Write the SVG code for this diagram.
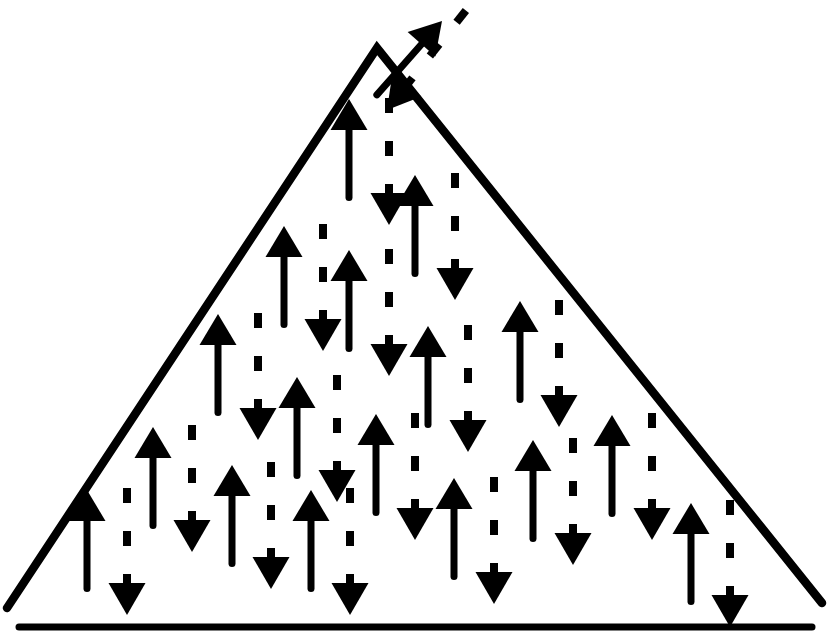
<svg xmlns="http://www.w3.org/2000/svg" xmlns:xlink="http://www.w3.org/1999/xlink" width="832" height="634" viewBox="0 0 832 634">
<style>
.edge{fill:none;stroke:#000;stroke-width:8.5;stroke-linecap:round;stroke-linejoin:miter}
.base{fill:none;stroke:#000;stroke-width:7;stroke-linecap:round}
.shaft{stroke:#000;stroke-width:7;stroke-linecap:round}
.ink{fill:#000}
</style>
<defs>
<g id="up">
<line class="shaft" x1="0" y1="28" x2="0" y2="98.5"/>
<polygon class="ink" points="0,0 18.5,31 -18.5,31"/>
</g>
<g id="dn">
<rect class="ink" x="-4" y="-127" width="8" height="15"/>
<rect class="ink" x="-4" y="-84" width="8" height="15"/>
<rect class="ink" x="-4" y="-41" width="8" height="10"/>
<polygon class="ink" points="0,0 -18.5,-32 18.5,-32"/>
</g>
</defs>
<rect width="832" height="634" fill="#fff"/>
<g id="pyramid">
<polyline class="edge" points="7,608 377,48 822,603"/>
<line class="base" x1="19" y1="627" x2="812" y2="627"/>
</g>
<g id="up-arrows">
<use xlink:href="#up" href="#up" x="349" y="99"/>
<use xlink:href="#up" href="#up" x="415" y="175"/>
<use xlink:href="#up" href="#up" x="284" y="226"/>
<use xlink:href="#up" href="#up" x="349" y="250"/>
<use xlink:href="#up" href="#up" x="218" y="314"/>
<use xlink:href="#up" href="#up" x="520" y="301"/>
<use xlink:href="#up" href="#up" x="428" y="326"/>
<use xlink:href="#up" href="#up" x="297" y="377"/>
<use xlink:href="#up" href="#up" x="376" y="414"/>
<use xlink:href="#up" href="#up" x="612" y="415"/>
<use xlink:href="#up" href="#up" x="153" y="427"/>
<use xlink:href="#up" href="#up" x="533" y="440"/>
<use xlink:href="#up" href="#up" x="232" y="465"/>
<use xlink:href="#up" href="#up" x="454" y="478"/>
<use xlink:href="#up" href="#up" x="87" y="490"/>
<use xlink:href="#up" href="#up" x="311" y="490"/>
<use xlink:href="#up" href="#up" x="691" y="503"/>
</g>
<g id="down-arrows">
<use xlink:href="#dn" href="#dn" x="389" y="225"/>
<use xlink:href="#dn" href="#dn" x="455" y="300"/>
<use xlink:href="#dn" href="#dn" x="323" y="351"/>
<use xlink:href="#dn" href="#dn" x="389" y="376"/>
<use xlink:href="#dn" href="#dn" x="258" y="440"/>
<use xlink:href="#dn" href="#dn" x="559" y="427"/>
<use xlink:href="#dn" href="#dn" x="468" y="452"/>
<use xlink:href="#dn" href="#dn" x="337" y="502"/>
<use xlink:href="#dn" href="#dn" x="415" y="540"/>
<use xlink:href="#dn" href="#dn" x="652" y="540"/>
<use xlink:href="#dn" href="#dn" x="192" y="552"/>
<use xlink:href="#dn" href="#dn" x="573" y="565"/>
<use xlink:href="#dn" href="#dn" x="271" y="589"/>
<use xlink:href="#dn" href="#dn" x="494" y="604"/>
<use xlink:href="#dn" href="#dn" x="127" y="615"/>
<use xlink:href="#dn" href="#dn" x="350" y="615"/>
<use xlink:href="#dn" href="#dn" x="730" y="627"/>
</g>
<g id="apex-arrows">
<use xlink:href="#dn" href="#dn" transform="translate(387,110) rotate(38.4)"/>
<use xlink:href="#up" href="#up" transform="translate(442,21) rotate(41.4)"/>
</g>
</svg>
